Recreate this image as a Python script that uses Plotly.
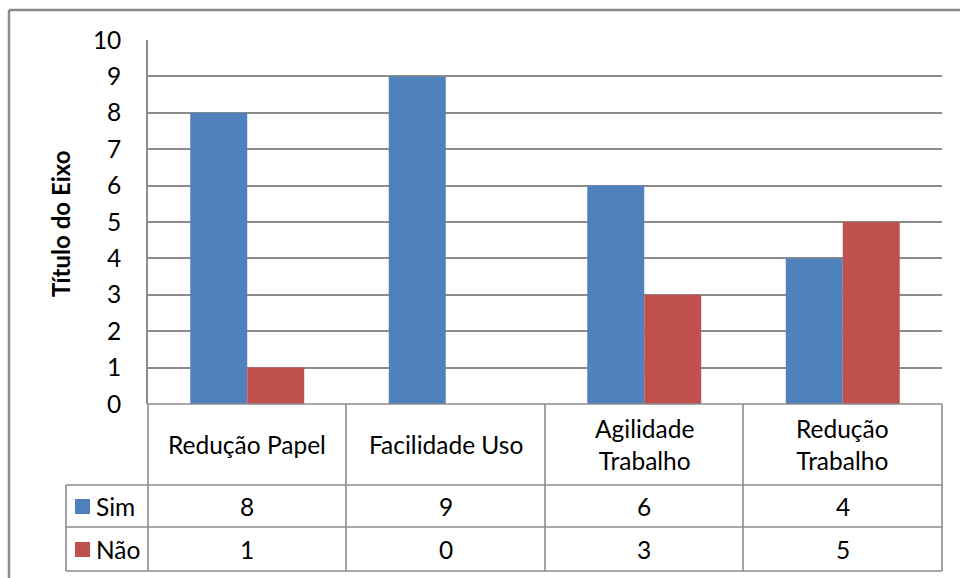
import plotly.graph_objects as go

# Chart data
categories = ["Redução Papel", "Facilidade Uso", "Agilidade Trabalho", "Redução Trabalho"]
category_labels = ["Redução Papel", "Facilidade Uso", "Agilidade<br>Trabalho", "Redução<br>Trabalho"]
series_names = ["Sim", "Não"]
sim_values = [8, 9, 6, 4]
nao_values = [1, 0, 3, 5]
y_ticks = list(range(0, 11))
axis_title = "Título do Eixo"

W, H = 960, 578
BLUE = "#4F81BD"
RED = "#C0504D"
GRID = "#8C8C8C"
FONT = "Lato"
TXT = 24.5

# plot-area placement in pixels
px_left, px_right = 148, 942
px_top, px_bottom = 40, 404


def fx(px):
    return px / W


def fy(py):
    return 1 - py / H


fig = go.Figure()
for name, vals, col in [(series_names[0], sim_values, BLUE), (series_names[1], nao_values, RED)]:
    fig.add_trace(go.Bar(x=categories, y=vals, name=name, marker=dict(color=col, line=dict(width=0))))

fig.update_layout(
    width=W, height=H,
    margin=dict(l=0, r=0, t=0, b=0, autoexpand=False),
    paper_bgcolor="white", plot_bgcolor="white",
    barmode="group", bargap=0.426, bargroupgap=0,
    showlegend=False,
    font=dict(family=FONT, color="#000000", size=TXT),
    xaxis=dict(domain=[fx(px_left), fx(px_right)], showticklabels=False, showgrid=False,
               zeroline=False, showline=False, fixedrange=True, automargin=False),
    yaxis=dict(domain=[fy(px_bottom), fy(px_top)], range=[0, 10], tickvals=y_ticks,
               showgrid=True, gridcolor=GRID, gridwidth=1.6, zeroline=False,
               showline=True, linecolor=GRID, linewidth=1.6, automargin=False,
               ticks="", ticklabelstandoff=20, tickfont=dict(size=TXT, family=FONT)),
)

shapes = []


def line(x0, y0, x1, y1, w=1.6, c=GRID):
    shapes.append(dict(type="line", xref="paper", yref="paper",
                       x0=fx(x0), y0=fy(y0), x1=fx(x1), y1=fy(y1),
                       line=dict(color=c, width=w)))


# outer chart frame
line(9, 10, 960, 10, w=2.5, c="#8A8A8A")
line(9, 10, 9, 578, w=2.5, c="#8A8A8A")

# data table grid
col_edges = [148, 346, 545, 743, 942]
row_cat_top, row_sim_top, row_nao_top, row_bottom = 404, 485, 527, 571
line(148, row_cat_top, 942, row_cat_top)
for yy in (row_sim_top, row_nao_top, row_bottom):
    line(66, yy, 942, yy)
for xx in col_edges:
    line(xx, row_cat_top, xx, row_bottom)
line(66, row_sim_top, 66, row_bottom)

# legend keys inside the table
for (y0, col) in [(499, BLUE), (542, RED)]:
    shapes.append(dict(type="rect", xref="paper", yref="paper",
                       x0=fx(75), x1=fx(90), y0=fy(y0 + 15), y1=fy(y0),
                       fillcolor=col, line=dict(width=0)))

annotations = []
centers = [(col_edges[i] + col_edges[i + 1]) / 2 for i in range(4)]
for cx, lab in zip(centers, category_labels):
    annotations.append(dict(x=fx(cx), y=fy((row_cat_top + row_sim_top) / 2), xref="paper", yref="paper",
                            text=lab, showarrow=False, xanchor="center", yanchor="middle",
                            font=dict(size=TXT, family=FONT)))
for row_vals, (t, b) in [(sim_values, (row_sim_top, row_nao_top)), (nao_values, (row_nao_top, row_bottom))]:
    for cx, v in zip(centers, row_vals):
        annotations.append(dict(x=fx(cx), y=fy((t + b) / 2), xref="paper", yref="paper",
                                text=str(v), showarrow=False, xanchor="center", yanchor="middle",
                                font=dict(size=TXT, family=FONT)))
for name, (t, b) in zip(series_names, [(row_sim_top, row_nao_top), (row_nao_top, row_bottom)]):
    annotations.append(dict(x=fx(94), y=fy((t + b) / 2), xref="paper", yref="paper",
                            text=name, showarrow=False, xanchor="left", yanchor="middle",
                            font=dict(size=TXT, family=FONT)))

annotations.append(dict(x=fx(61), y=fy(224), xref="paper", yref="paper", text="<b>" + axis_title + "</b>",
                        textangle=-90, showarrow=False, xanchor="center", yanchor="middle",
                        font=dict(size=24, family=FONT)))

fig.update_layout(shapes=shapes, annotations=annotations)
fig.write_html("out.html")
